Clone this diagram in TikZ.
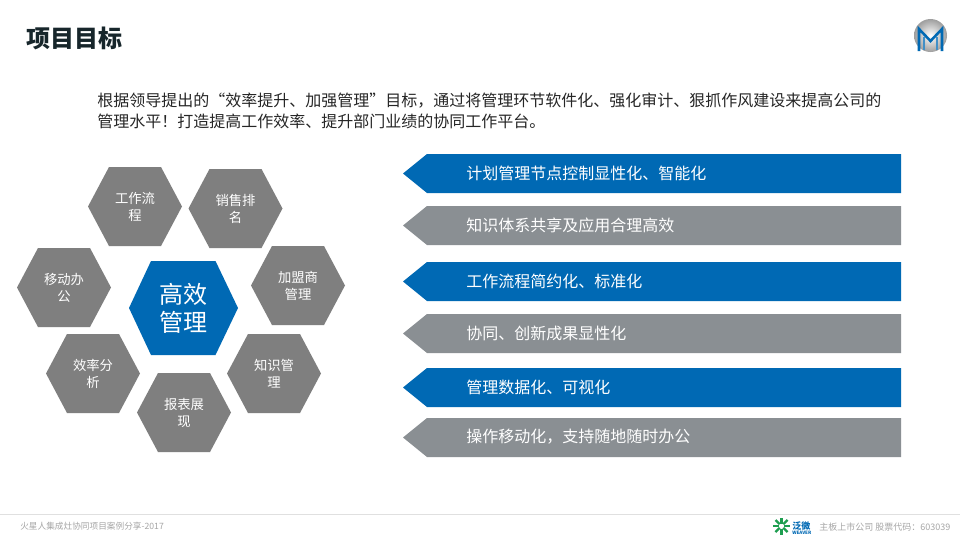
\documentclass[tikz,border=0pt]{standalone}
\usepackage{fontspec}
\setmainfont{Noto Sans CJK SC}
\definecolor{blueC}{HTML}{0069B4}
\definecolor{greyH}{HTML}{7F7F7F}
\definecolor{greyB}{HTML}{8A8F93}
\definecolor{titleC}{HTML}{17262B}
\definecolor{bodyC}{HTML}{262626}
\definecolor{footC}{HTML}{A6A6A6}
\definecolor{greenL}{HTML}{1E9E50}
\tikzset{
  hextext/.style={text=white,align=center,font=\fontsize{10}{12.75}\selectfont,inner sep=0pt},
  bantext/.style={text=white,anchor=west,font=\fontsize{12}{14}\selectfont,inner sep=0pt},
  foottext/.style={text=footC,anchor=west,inner sep=0pt},
  bodytext/.style={anchor=west,text=bodyC,inner sep=0pt,font=\fontsize{12}{14}\selectfont}
}
% centre x, centre y, name, text
\newcommand{\hexa}[4]{%
  \fill[greyH] (#1-47,#2) -- (#1-26,#2-39.5) -- (#1+26,#2-39.5) -- (#1+47,#2) -- (#1+26,#2+39.5) -- (#1-26,#2+39.5) -- cycle;
  \node[hextext] (#3) at (#1,#2) {#4};}
% top y, colour, name, text
\newcommand{\banner}[4]{%
  \fill[#2] (403,#1+19.5) -- (427,#1) -- (901,#1) -- (901,#1+39) -- (427,#1+39) -- cycle;
  \node[bantext] (#3) at (466,#1+19) {#4};}
\begin{document}
\begin{tikzpicture}[x=0.75pt,y=-0.75pt]
\useasboundingbox (0,0) rectangle (960,540);
\fill[white] (0,0) rectangle (960,540);
\node[anchor=west,text=titleC,inner sep=0pt,font=\fontsize{18}{20}\selectfont\bfseries] (title) at (26,38) {项目目标};
\node[bodytext] (l1) at (97,101) {根据领导提出的“效率提升、加强管理”目标，通过将管理环节软件化、强化审计、狠抓作风建设来提高公司的};
\node[bodytext] (l2) at (97,121) {管理水平！打造提高工作效率、提升部门业绩的协同工作平台。};
\hexa{135}{206.5}{h1}{工作流\\程}
\hexa{235.5}{208.5}{h2}{销售排\\名}
\hexa{298}{285.5}{h3}{加盟商\\管理}
\hexa{274}{373.5}{h4}{知识管\\理}
\hexa{184}{412.5}{h5}{报表展\\现}
\hexa{93}{373.5}{h6}{效率分\\析}
\hexa{64}{287.5}{h7}{移动办\\公}
\fill[blueC] (129,308) -- (151,261) -- (215.5,261) -- (238,308) -- (215.5,355) -- (151,355) -- cycle;
\node[text=white,align=center,inner sep=0pt,font=\fontsize{18}{21.5}\selectfont] (c) at (183.5,308.5) {高效\\管理};
\banner{154}{blueC}{b1}{计划管理节点控制显性化、智能化}
\banner{206}{greyB}{b2}{知识体系共享及应用合理高效}
\banner{262}{blueC}{b3}{工作流程简约化、标准化}
\banner{314}{greyB}{b4}{协同、创新成果显性化}
\banner{368}{blueC}{b5}{管理数据化、可视化}
\banner{418}{greyB}{b6}{操作移动化，支持随地随时办公}
\draw[line width=0.75pt,black!12] (0,514.5) -- (960,514.5);
\node[foottext,font=\fontsize{6.5}{8}\selectfont] (f1) at (20,526) {火星人集成灶协同项目案例分享-2017};
\node[foottext,font=\fontsize{6.75}{8}\selectfont] (f2) at (819,527) {主板上市公司 股票代码：603039};
% top logo
\shade[inner color=white,outer color=black!38] (930.5,35.5) circle (16.5);
\draw[blueC,line width=1.9pt,line join=miter] (919,51) -- (919,29) -- (930.5,41) -- (942,29) -- (942,51);
\draw[blueC!75,line width=1.5pt] (924,50) -- (924,37) (937,50) -- (937,37);
% green logo
\foreach \a in {0,45,...,315}{
  \draw[greenL,line width=1.8pt] (781.5,526)++(\a:2.5) -- ++(\a:6);
}
\node[anchor=west,text=blueC,inner sep=0pt,font=\fontsize{6.75}{8}\selectfont\bfseries] (lg) at (792,526) {泛微};
\node[anchor=west,text=blueC,inner sep=0pt,font=\fontsize{3.4}{4}\selectfont\bfseries] (lg2) at (792,533) {WEAVER};
\end{tikzpicture}
\end{document}
